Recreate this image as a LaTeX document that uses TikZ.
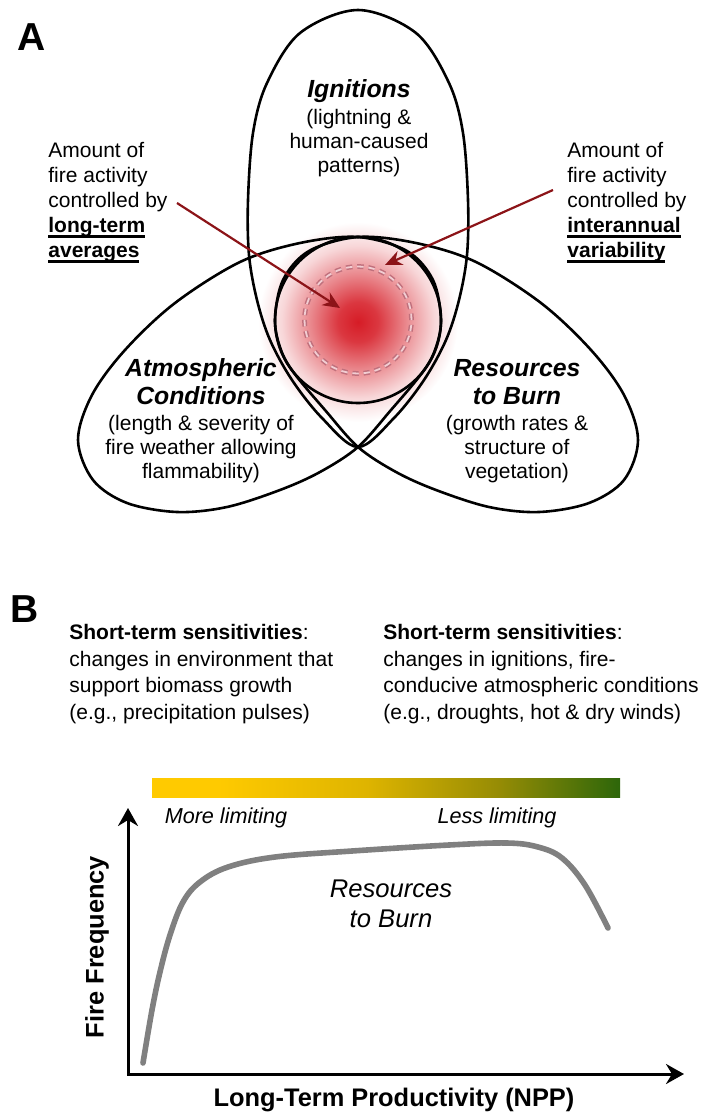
\documentclass[tikz,border=0pt]{standalone}
\usepackage{fontspec}
\setmainfont{Liberation Sans}
\usetikzlibrary{arrows.meta}
\definecolor{arrowred}{RGB}{140,20,24}
\definecolor{glowred}{RGB}{214,28,38}
\definecolor{dashred}{RGB}{192,112,124}
\definecolor{dashmid}{RGB}{242,205,210}
\definecolor{curvegray}{RGB}{128,128,128}
\definecolor{barA}{RGB}{255,202,0}
\definecolor{barB}{RGB}{222,180,0}
\definecolor{barC}{RGB}{150,140,5}
\definecolor{barD}{RGB}{45,102,10}
\pgfdeclareradialshading{glow}{\pgfpoint{0bp}{0bp}}{color(0bp)=(glowred); color(5bp)=(glowred!88!white); color(12bp)=(glowred!52!white); color(19bp)=(glowred!18!white); color(25bp)=(white); color(50bp)=(white)}
\pgfdeclarehorizontalshading{nppbar}{100bp}{color(0bp)=(barA); color(25bp)=(barA); color(32bp)=(barA); color(48bp)=(barB); color(62bp)=(barC); color(75bp)=(barD); color(100bp)=(barD)}
\newcommand\ulbold[1]{{\bfseries\setbox0=\hbox{#1}\rlap{\rule[-2.3pt]{\wd0}{1.1pt}}\box0}}
\tikzset{
  vennline/.style={line width=1.3pt, draw=black},
  redarrow/.style={draw=arrowred, line width=1.1pt, -{Stealth[length=8.5pt,width=7.5pt]}},
  annot/.style={align=left, inner sep=0pt, font=\fontsize{10.5}{12.5}\selectfont},
  bodytext/.style={align=center, inner sep=0pt, font=\fontsize{10.5}{12}\selectfont},
  vtitle/.style={align=center, inner sep=0pt, font=\fontsize{12.4}{14}\selectfont\bfseries\itshape},
  paneltag/.style={inner sep=0pt, font=\fontsize{19.5}{22}\selectfont\bfseries},
  headtext/.style={align=left, inner sep=0pt, font=\fontsize{10.5}{13.2}\selectfont},
  limtext/.style={inner sep=0pt, font=\fontsize{10.8}{13}\selectfont\itshape},
  curvetext/.style={align=center, inner sep=0pt, font=\fontsize{12.8}{15}\selectfont\itshape},
  axislabel/.style={inner sep=0pt, font=\fontsize{12.7}{15}\selectfont\bfseries},
  axisline/.style={line width=1.5pt, line join=miter, {Stealth[length=9pt,width=10pt,inset=3pt]}-{Stealth[length=9pt,width=10pt,inset=3pt]}},
  firecurve/.style={draw=curvegray, line width=2.8pt, line cap=round}
}
\begin{document}
\begin{tikzpicture}[x=0.5pt,y=-0.5pt]
\useasboundingbox (0,0) rectangle (707,1114);
% ---------------- Panel A ----------------
\node[paneltag, anchor=base west] (tagA) at (17,50) {A};
% glow
\coordinate (ctr) at (358,322);
\shade[shading=glow] (ctr) circle[radius=50pt];
% dashed double circle
\draw[draw=dashred, line width=0.75pt, double=dashmid, double distance=0.9pt, dash pattern=on 3.2pt off 2.4pt] (358,320) circle[radius=26.75pt];
% top ellipse (Ignitions)
\draw[vennline] plot[smooth cycle, tension=0.55] coordinates {(358,10) (416,33) (449,83) (463,133) (468,200) (467,255) (459,300) (446,340) (424,380) (394,418) (358,447) (322,418) (292,380) (270,340) (257,300) (249,255) (248,200) (253,133) (267,83) (300,33)};
% left ellipse (Atmospheric)
\draw[vennline] plot[smooth cycle, tension=0.55] coordinates {(78,440) (92,395) (125,350) (175,303) (240,262) (300,243) (358,237) (407,251) (433,280) (441,320) (435,350) (422,373) (391,410) (358,447) (320,472) (280,490) (227,507) (177,512) (127,503) (93,480)};
% right ellipse (Resources)
\draw[vennline] plot[smooth cycle, tension=0.55] coordinates {(638,440) (624,480) (589,503) (539,512) (489,507) (436,490) (396,472) (358,447) (325,410) (294,373) (281,350) (275,320) (283,280) (309,251) (358,237) (416,243) (476,262) (541,303) (591,350) (624,395)};
% central circle
\draw[vennline] (358,320) circle[radius=41.5pt];
% texts
\node[vtitle, anchor=base] (ignT) at (359,97) {Ignitions};
\node[bodytext, anchor=north] (ignB) at (359,107) {\strut(lightning \&\\human-caused\\patterns)};
\node[vtitle, anchor=north] (atmT) at (201,356) {\strut Atmospheric\\Conditions};
\node[bodytext, anchor=north] (atmB) at (201,413) {\strut(length \& severity of\\fire weather allowing\\flammability)};
\node[vtitle, anchor=north] (resT) at (517,356) {\strut Resources\\to Burn};
\node[bodytext, anchor=north] (resB) at (517,413) {\strut(growth rates \&\\structure of\\vegetation)};
\node[annot, anchor=north west] (longtxt) at (48,140) {\strut Amount of\\fire activity\\controlled by\\\ulbold{long-term}\\\ulbold{averages}};
\node[annot, anchor=north west] (intertxt) at (567,140) {\strut Amount of\\fire activity\\controlled by\\\ulbold{interannual}\\\ulbold{variability}};
% arrows
\coordinate (lstart) at (177,203);
\coordinate (ltip) at (340,308);
\coordinate (rstart) at (553,190);
\coordinate (rtip) at (385,265);
\draw[redarrow] (lstart) -- (ltip);
\draw[redarrow] (rstart) -- (rtip);
% ---------------- Panel B ----------------
\node[paneltag, anchor=base west] (tagB) at (10,622) {B};
\node[headtext, anchor=north west] (sensL) at (69,621) {\strut\textbf{Short-term sensitivities}:\\changes in environment that\\support biomass growth\\(e.g., precipitation pulses)};
\node[headtext, anchor=north west] (sensR) at (383,621) {\strut\textbf{Short-term sensitivities}:\\changes in ignitions, fire-\\conducive atmospheric conditions\\(e.g., droughts, hot \& dry winds)};
\shade[shading=nppbar] (152,778) rectangle (620,797);
\node[limtext] (more) at (226,818) {More limiting};
\node[limtext] (less) at (497,818) {Less limiting};
\coordinate (origin) at (128,1074);
\coordinate (ytip) at (128,808);
\coordinate (xtip) at (684,1074);
\draw[axisline] (ytip) -- (origin) -- (xtip);
\draw[firecurve] plot[smooth, tension=0.6] coordinates {(143,1063) (152,1010) (160,972) (170,935) (183,902) (200,882) (228,867) (275,857) (352,851) (449,845) (507,843) (538,847) (562,858) (585,885) (608,928)};
\node[curvetext] (rtb) at (391,904) {Resources\\to Burn};
\node[axislabel, rotate=90] (ylab) at (97,947) {Fire Frequency};
\node[axislabel] (xlab) at (394,1100) {Long-Term Productivity (NPP)};
\end{tikzpicture}
\end{document}
